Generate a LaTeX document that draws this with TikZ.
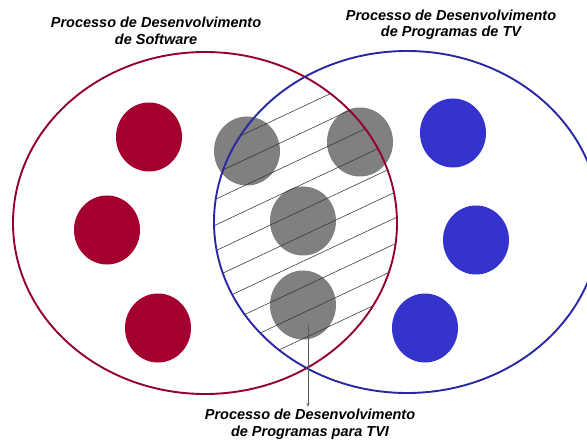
\documentclass[tikz,border=0pt]{standalone}
\usepackage{fontspec}
\setmainfont{Liberation Sans}
\usetikzlibrary{shapes.geometric,arrows.meta}
\definecolor{swred}{RGB}{163,0,48}
\definecolor{swline}{RGB}{150,0,45}
\definecolor{tvblue}{RGB}{52,52,204}
\definecolor{tvline}{RGB}{40,40,165}
\definecolor{dotgray}{RGB}{128,128,128}

\begin{document}
\begin{tikzpicture}[x=1pt,y=-1pt,
    lbl/.style={align=center,inner sep=0pt,
      font=\bfseries\itshape\fontsize{14.5}{16.5}\selectfont},
    hatch/.style={draw=black!80,line width=0.55pt},
    arr/.style={draw=black!65,line width=0.7pt,-{Stealth[length=4pt,width=3pt]}}]

      \useasboundingbox (0,0) rectangle (587,441);

      \begin{scope}[every node/.style={ellipse,minimum width=66pt,minimum height=69pt,inner sep=0pt}]
        \node[fill=swred]   (s1) at (149,137) {};
        \node[fill=swred]   (s2) at (107,230) {};
        \node[fill=swred]   (s3) at (158,328) {};
        \node[fill=dotgray] (c1) at (247,151) {};
        \node[fill=dotgray] (c2) at (360,142) {};
        \node[fill=dotgray] (c3) at (303,221) {};
        \node[fill=dotgray] (c4) at (303,305) {};
        \node[fill=tvblue]  (t1) at (453,133) {};
        \node[fill=tvblue]  (t2) at (476,240) {};
        \node[fill=tvblue]  (t3) at (425,328) {};
      \end{scope}

      \begin{scope}
        \clip (205,223) ellipse [x radius=192pt,y radius=171pt];
        \clip (407,222) ellipse [x radius=193pt,y radius=171pt];
        \foreach \k in {0,...,9}
          \draw[hatch] (200,{154.9+25.8*\k}) -- (420,{51.5+25.8*\k});
      \end{scope}

      \begin{scope}[every node/.style={ellipse,inner sep=0pt,line width=1.9pt,minimum height=342pt}]
        \node[draw=swline,minimum width=384pt] (sw) at (205,223) {};
        \node[draw=tvline,minimum width=386pt] (tv) at (407,222) {};
      \end{scope}

      \begin{scope}[every node/.style={lbl}]
        \node (lsw)  at (156,31)  {Processo de Desenvolvimento\\de Software};
        \node (ltv)  at (451,25)  {Processo de Desenvolvimento\\de Programas de TV};
        \node (ltvi) at (310,424) {Processo de Desenvolvimento\\de Programas para TVI};
      \end{scope}

      \coordinate (a1) at (308,325);
      \draw[arr] (a1) -- ([yshift=2pt]a1 |- ltvi.north);

    \end{tikzpicture}
\end{document}
